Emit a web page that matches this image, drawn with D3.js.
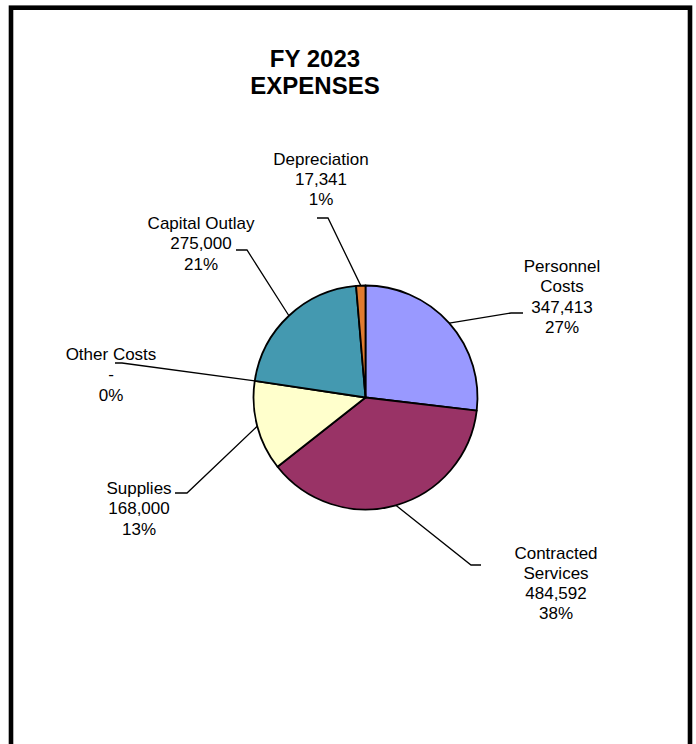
<!DOCTYPE html>
<html>
<head>
<meta charset="utf-8">
<script src="https://cdn.jsdelivr.net/npm/d3@7"></script>
<style>
  html, body { margin: 0; padding: 0; background: #fff; }
  svg { display: block; }
  text { font-family: "Liberation Sans", Arial, sans-serif; fill: #000; }
</style>
</head>
<body>
<svg id="chart" width="696" height="744"></svg>
<script>
// Expense categories, in drawing order (clockwise from 12 o'clock)
const categories = ["Personnel Costs", "Contracted Services", "Supplies", "Other Costs", "Capital Outlay", "Depreciation"];
const categoryLines = [["Personnel", "Costs"], ["Contracted", "Services"], ["Supplies"], ["Other Costs"], ["Capital Outlay"], ["Depreciation"]];
const amounts = [347413, 484592, 168000, 0, 275000, 17341];
const percentLabels = ["27%", "38%", "13%", "0%", "21%", "1%"];
const sliceColors = ["#9999FF", "#993366", "#FFFFCC", "#CCFFFF", "#4499B0", "#E07B30"];
const titleLines = ["FY 2023", "EXPENSES"];

// Label placement: text centre x, first baseline y, leader elbow and end
const labelLayout = [
  { x: 562, y: 272, elbow: [511, 313], end: [523, 313] },
  { x: 556, y: 558.5, elbow: [471, 565], end: [481, 565] },
  { x: 139, y: 494, elbow: [187, 493], end: [175, 493] },
  { x: 111, y: 360, elbow: [122, 363], end: [115, 363] },
  { x: 201, y: 229, elbow: [247, 250], end: [236, 250] },
  { x: 321, y: 164.5, elbow: [328, 218], end: [317, 218] }
];
const lineStep = 20.3;

const svg = d3.select("#chart");

// Frame
svg.append("rect")
  .attr("x", 11).attr("y", 7.7)
  .attr("width", 679).attr("height", 800)
  .attr("fill", "none").attr("stroke", "#000").attr("stroke-width", 4.6);

// Title
svg.append("g").selectAll("text").data(titleLines).join("text")
  .attr("x", 315)
  .attr("y", (d, i) => 66.5 + i * 27.5)
  .attr("text-anchor", "middle")
  .attr("font-size", 24)
  .attr("font-weight", "bold")
  .text(d => d);

const cx = 365.5, cy = 397.5, r = 112;
const data = categories.map((c, i) => ({ name: c, value: amounts[i], i }));

const pie = d3.pie().value(d => d.value).sort(null).startAngle(0).endAngle(2 * Math.PI);
const arcs = pie(data);
const arc = d3.arc().innerRadius(0).outerRadius(r);
const rim = d3.arc().innerRadius(r).outerRadius(r);

const g = svg.append("g").attr("transform", `translate(${cx},${cy})`);

// Leader lines from slice rim to label
const leaders = svg.append("g");
arcs.forEach((a, i) => {
  const p = rim.centroid(a);
  const L = labelLayout[i];
  leaders.append("polyline")
    .attr("points", [[cx + p[0], cy + p[1]], L.elbow, L.end].map(q => q.join(",")).join(" "))
    .attr("fill", "none").attr("stroke", "#000").attr("stroke-width", 1.3);
});

// Slices
g.selectAll("path").data(arcs.filter(a => a.data.value > 0)).join("path")
  .attr("d", arc)
  .attr("fill", d => sliceColors[d.data.i])
  .attr("stroke", "#000").attr("stroke-width", 1.8)
  .attr("stroke-linejoin", "round");

// Labels: name, value, percent
const fmt = v => v === 0 ? "-" : d3.format(",")(v);
const labels = svg.append("g");
arcs.forEach((a, i) => {
  const L = labelLayout[i];
  const lines = categoryLines[i].concat([fmt(amounts[i]), percentLabels[i]]);
  labels.append("g").selectAll("text").data(lines).join("text")
    .attr("x", L.x)
    .attr("y", (d, k) => L.y + k * lineStep)
    .attr("text-anchor", "middle")
    .attr("font-size", 17)
    .text(d => d);
});
</script>
</body>
</html>
